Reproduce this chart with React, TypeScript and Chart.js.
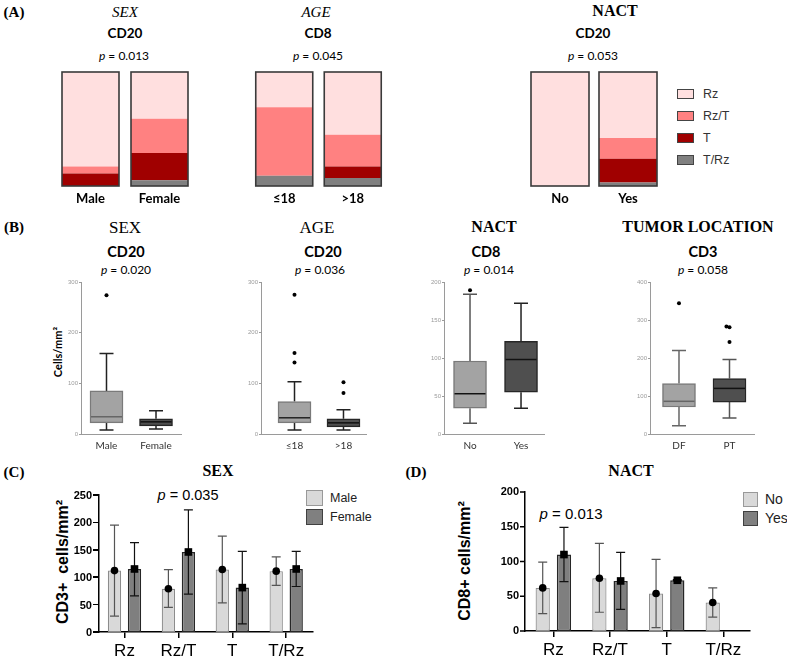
import React, { useEffect, useRef, useState } from 'react';
import { Chart, registerables } from 'chart.js';

Chart.register(...registerables);

const SERIF = '"Liberation Serif", "Times New Roman", serif';
const HUM = 'Lato, "Open Sans", sans-serif';
const SANS = '"Liberation Sans", Arial, sans-serif';

// ---------------- Panel A: distribution of zones (% of cases) ----------------
const zoneLabels = ['Rz', 'Rz/T', 'T', 'T/Rz'];
const zoneColors = ['#ffdfdf', '#ff8181', '#a00000', '#808080'];
const sexGroups = ['Male', 'Female'];
const ageGroups = ['≤18', '>18'];
const nactGroups = ['No', 'Yes'];
const locGroups = ['DF', 'PT'];

const aSexRz = [83, 41];
const aSexRzT = [6, 30];
const aSexT = [11, 24];
const aSexTRz = [0, 5];
const aAgeRz = [31, 55];
const aAgeRzT = [60, 28];
const aAgeT = [0, 10];
const aAgeTRz = [9, 7];
const aNactRz = [100, 58];
const aNactRzT = [0, 18];
const aNactT = [0, 21];
const aNactTRz = [0, 3];

// ---------------- Panel B: box plots (cells/mm²) ----------------
const bSexMin = [8, 10];
const bSexQ1 = [22, 16];
const bSexMed = [34, 24];
const bSexQ3 = [85, 30];
const bSexMax = [159, 46];
const bSexOutPos = [1];
const bSexOutVal = [274];

const bAgeMin = [8, 8];
const bAgeQ1 = [22, 14];
const bAgeMed = [32, 22];
const bAgeQ3 = [64, 30];
const bAgeMax = [103, 48];
const bAgeOutPos = [1, 1, 1, 2, 2];
const bAgeOutVal = [275, 160, 141, 102, 81];

const bNactMin = [14, 34];
const bNactQ1 = [34, 55];
const bNactMed = [53, 98];
const bNactQ3 = [96, 122];
const bNactMax = [184, 172];
const bNactOutPos = [1];
const bNactOutVal = [189];

const bLocMin = [22, 42];
const bLocQ1 = [71, 84];
const bLocMed = [86, 120];
const bLocQ3 = [133, 146];
const bLocMax = [220, 196];
const bLocOutPos = [1, 1.94, 2, 2];
const bLocOutVal = [344, 283, 281, 242];

// ---------------- Panel C: CD3+ by zone and sex ----------------
const zoneCats = ['Rz', 'Rz/T', 'T', 'T/Rz'];
const cYTicks = [0, 50, 100, 150, 200, 250];
const cMaleMean = [112, 79, 114, 111];
const cMaleLow = [29, 45, 53, 85];
const cMaleHigh = [195, 114, 175, 137];
const cFemaleMean = [115, 146, 81, 115];
const cFemaleLow = [66, 69, 15, 83];
const cFemaleHigh = [163, 223, 147, 147];

// ---------------- Panel D: CD8+ by zone and NACT ----------------
const dYTicks = [0, 50, 100, 150, 200];
const dNoMean = [62, 76, 54, 41];
const dNoLow = [25, 27, 5, 20];
const dNoHigh = [99, 126, 103, 62];
const dYesMean = [110, 72, 73, null];
const dYesLow = [71, 31, 72, null];
const dYesHigh = [149, 113, 74, null];

// ---------------- plugins ----------------
function makeOutlinePlugin(color: string, width: number) {
  return {
    id: 'barOutline',
    afterDatasetsDraw(chart: any) {
      const ys = chart.scales.y;
      const top = ys.getPixelForValue(100);
      const bot = ys.getPixelForValue(0);
      const ctx = chart.ctx;
      ctx.save();
      ctx.strokeStyle = color;
      ctx.lineWidth = width;
      chart.getDatasetMeta(0).data.forEach((el: any) => {
        const p = el.getProps(['x', 'width'], true);
        ctx.strokeRect(p.x - p.width / 2, top, p.width, bot - top);
      });
      ctx.restore();
    },
  };
}

function makeBoxPlugin(mn: number[], q1: number[], md: number[], q3: number[], mx: number[], whisk: string[], med: string[]) {
  return {
    id: 'boxWhisker',
    beforeDatasetsDraw(chart: any) {
      const xs = chart.scales.x;
      const ys = chart.scales.y;
      const ctx = chart.ctx;
      ctx.save();
      ctx.lineWidth = 1.5;
      mn.forEach((_v, i) => {
        const x = xs.getPixelForValue(i + 1);
        const yMin = ys.getPixelForValue(mn[i]);
        const yMax = ys.getPixelForValue(mx[i]);
        ctx.strokeStyle = whisk[i];
        ctx.beginPath();
        ctx.moveTo(x, ys.getPixelForValue(q3[i]));
        ctx.lineTo(x, yMax);
        ctx.moveTo(x, ys.getPixelForValue(q1[i]));
        ctx.lineTo(x, yMin);
        ctx.moveTo(x - 7, yMax);
        ctx.lineTo(x + 7, yMax);
        ctx.moveTo(x - 7, yMin);
        ctx.lineTo(x + 7, yMin);
        ctx.stroke();
      });
      ctx.restore();
    },
    afterDatasetsDraw(chart: any) {
      const ys = chart.scales.y;
      const ctx = chart.ctx;
      ctx.save();
      ctx.lineWidth = 1.5;
      chart.getDatasetMeta(0).data.forEach((el: any, i: number) => {
        const p = el.getProps(['x', 'width'], true);
        const y = ys.getPixelForValue(md[i]);
        ctx.strokeStyle = med[i];
        ctx.beginPath();
        ctx.moveTo(p.x - p.width / 2 + 1, y);
        ctx.lineTo(p.x + p.width / 2 - 1, y);
        ctx.stroke();
      });
      ctx.restore();
    },
  };
}

function makeErrorPlugin(lows: any[][], highs: any[][], colors: string[], markers: string[]) {
  return {
    id: 'errorBars',
    afterDatasetsDraw(chart: any) {
      const ys = chart.scales.y;
      const ctx = chart.ctx;
      ctx.save();
      lows.forEach((lo, d) => {
        const meta = chart.getDatasetMeta(d);
        meta.data.forEach((el: any, i: number) => {
          const v = chart.data.datasets[d].data[i].y;
          if (v === null || v === undefined || lo[i] === null) return;
          const x = el.x;
          const yMean = ys.getPixelForValue(v);
          const yLo = ys.getPixelForValue(lo[i]);
          const yHi = ys.getPixelForValue(highs[d][i]);
          ctx.strokeStyle = colors[d];
          ctx.lineWidth = 1.2;
          ctx.beginPath();
          ctx.moveTo(x, yHi);
          ctx.lineTo(x, yLo);
          ctx.moveTo(x - 4.5, yHi);
          ctx.lineTo(x + 4.5, yHi);
          ctx.moveTo(x - 4.5, yLo);
          ctx.lineTo(x + 4.5, yLo);
          ctx.stroke();
          ctx.fillStyle = '#000';
          if (markers[d] === 'circle') {
            ctx.beginPath();
            ctx.arc(x, yMean, 3.8, 0, Math.PI * 2);
            ctx.fill();
          } else {
            ctx.fillRect(x - 3.8, yMean - 3.8, 7.6, 7.6);
          }
        });
      });
      ctx.restore();
    },
  };
}

// draws the value-axis tick marks and numbers from the y scale
function makeYAxisPlugin(vals: number[]) {
  return {
    id: 'yAxisLabels',
    afterDraw(chart: any) {
      const ys = chart.scales.y;
      const ctx = chart.ctx;
      ctx.save();
      ctx.strokeStyle = '#000';
      ctx.fillStyle = '#000';
      ctx.lineWidth = 1.5;
      ctx.font = `bold 11px ${SANS}`;
      ctx.textAlign = 'right';
      ctx.textBaseline = 'middle';
      vals.forEach((v) => {
        const y = ys.getPixelForValue(v);
        ctx.beginPath();
        ctx.moveTo(ys.right - 5, y);
        ctx.lineTo(ys.right, y);
        ctx.stroke();
        ctx.fillText(String(v), ys.right - 6, y);
      });
      ctx.restore();
    },
  };
}

// ---------------- configs ----------------
const base = {
  animation: false,
  responsive: false,
  maintainAspectRatio: false,
  devicePixelRatio: 1,
  events: [],
};

function stackedConfig(groups: string[], rz: number[], rzt: number[], t: number[], trz: number[], barPct: number) {
  const series = [trz, t, rzt, rz];
  const idx = [3, 2, 1, 0];
  return {
    type: 'bar',
    data: {
      labels: groups,
      datasets: series.map((d, k) => ({
        label: zoneLabels[idx[k]],
        data: d,
        backgroundColor: zoneColors[idx[k]],
        borderWidth: 0,
        barPercentage: barPct,
        categoryPercentage: 1,
      })),
    },
    options: {
      ...base,
      layout: { autoPadding: false, padding: { top: 1, left: 0, right: 0, bottom: 0 } },
      plugins: { legend: { display: false }, tooltip: { enabled: false }, title: { display: false } },
      scales: {
        x: {
          stacked: true,
          grid: { display: false, drawTicks: false },
          border: { display: false },
          ticks: { font: { family: HUM, size: 13, weight: 'bold' }, color: '#000', padding: 5, maxRotation: 0, autoSkip: false },
          afterFit: (s: any) => { s.height = 24; },
        },
        y: { stacked: true, display: false, min: 0, max: 100 },
      },
    },
    plugins: [makeOutlinePlugin('#3a3a3a', 1.6)],
  };
}

function boxConfig(groups: string[], mn: number[], q1: number[], md: number[], q3: number[], mx: number[],
  outPos: number[], outVal: number[], yMax: number, yStep: number, xMin: number, xMax: number, whisk: string[], med: string[]) {
  return {
    type: 'bar',
    data: {
      datasets: [
        {
          type: 'bar',
          data: groups.map((_g, i) => ({ x: i + 1, y: [q1[i], q3[i]] })),
          backgroundColor: ['#a3a3a3', '#4f4f4f'],
          borderColor: ['#7a7a7a', '#262626'],
          borderWidth: 1.5,
          borderSkipped: false,
          barThickness: 33,
        },
        {
          type: 'scatter',
          data: outPos.map((p, k) => ({ x: p, y: outVal[k] })),
          pointRadius: 2,
          pointBackgroundColor: '#000',
          pointBorderWidth: 0,
        },
      ],
    },
    options: {
      ...base,
      layout: { autoPadding: false, padding: { top: 6, left: 0, right: 0, bottom: 0 } },
      plugins: { legend: { display: false }, tooltip: { enabled: false } },
      scales: {
        x: {
          type: 'linear', min: xMin, max: xMax, offset: false,
          afterBuildTicks: (s: any) => { s.ticks = groups.map((_g, i) => ({ value: i + 1 })); },
          ticks: {
            callback: (v: any) => groups[Math.round(v) - 1] ?? '',
            font: { family: HUM, size: 10 }, color: '#333', padding: 6, maxRotation: 0, autoSkip: false,
          },
          grid: { display: false, drawTicks: false, offset: false },
          border: { color: '#9a9a9a', width: 1 },
          afterFit: (s: any) => { s.height = 22; },
        },
        y: {
          min: 0, max: yMax,
          ticks: { stepSize: yStep, font: { family: SANS, size: 6 }, color: '#9a9a9a', padding: 1 },
          grid: { drawOnChartArea: false, tickLength: 2, color: '#9a9a9a' },
          border: { color: '#9a9a9a', width: 1 },
          afterFit: (s: any) => { s.width = 16; },
        },
      },
    },
    plugins: [makeBoxPlugin(mn, q1, md, q3, mx, whisk, med)],
  };
}

function groupedConfig(names: string[], means: any[][], lows: any[][], highs: any[][], yTicks: number[],
  xMin: number, xMax: number, catPct: number, barPct: number, yWidth: number, canvasYLabels: boolean) {
  const fills = ['#d9d9d9', '#7f7f7f'];
  const borders = ['#8c8c8c', '#262626'];
  const plugins: any[] = [makeErrorPlugin(lows, highs, ['#555555', '#111111'], ['circle', 'square'])];
  if (canvasYLabels) plugins.push(makeYAxisPlugin(yTicks));
  return {
    type: 'bar',
    data: {
      datasets: means.map((m, d) => ({
        label: names[d],
        data: m.map((v, i) => ({ x: i + 1, y: v })),
        backgroundColor: fills[d],
        borderColor: borders[d],
        borderWidth: d === 0 ? 1.2 : 1.5,
        borderSkipped: false,
        categoryPercentage: catPct,
        barPercentage: barPct,
      })),
    },
    options: {
      ...base,
      layout: { autoPadding: false, padding: { top: 8, left: 0, right: 2, bottom: 0 } },
      plugins: { legend: { display: false }, tooltip: { enabled: false } },
      scales: {
        x: {
          type: 'linear', min: xMin, max: xMax, offset: false,
          afterBuildTicks: (s: any) => { s.ticks = zoneCats.map((_c, i) => ({ value: i + 1 })); },
          ticks: {
            callback: (v: any) => zoneCats[Math.round(v) - 1] ?? '',
            font: { family: SANS, size: 17 }, color: '#000', padding: 3, maxRotation: 0, autoSkip: false,
          },
          grid: { drawOnChartArea: false, offset: false, tickLength: 6, color: '#000', lineWidth: 1.5 },
          border: { color: '#000', width: 1.5 },
          afterFit: (s: any) => { s.height = 28; },
        },
        y: {
          type: 'linear',
          position: 'left',
          min: yTicks[0], max: yTicks[yTicks.length - 1],
          ticks: { display: false },
          grid: { display: false, drawTicks: false },
          border: { color: '#000', width: 1.5 },
          afterFit: (s: any) => { s.width = yWidth; },
        },
      },
    },
    plugins,
  };
}

// ---------------- components ----------------
function ChartBox({ left, top, width, height, make, onReady }:
  { left: number; top: number; width: number; height: number; make: () => any; onReady?: (c: any) => void }) {
  const ref = useRef<HTMLCanvasElement | null>(null);
  useEffect(() => {
    if (!ref.current) return;
    const chart = new Chart(ref.current, make());
    if (onReady) onReady(chart);
    return () => chart.destroy();
  }, []);
  return (
    <canvas ref={ref} width={width} height={height}
      style={{ position: 'absolute', left, top, width, height, display: 'block', zIndex: 2 }} />
  );
}

function Txt({ x, y, size, family, weight = 'normal', italic = false, color = '#000', rotate = 0, align = 'center', z = 1, children }:
  { x: number; y: number; size: number; family: string; weight?: any; italic?: boolean; color?: string; rotate?: number; align?: string; z?: number; children: any }) {
  const tx = align === 'center' ? '-50%' : align === 'right' ? '-100%' : '0';
  return (
    <div style={{
      position: 'absolute', left: x, top: y,
      transform: `translate(${tx},-50%) rotate(${rotate}deg)`,
      fontSize: size, fontFamily: family, fontWeight: weight, fontStyle: italic ? 'italic' : 'normal',
      color, whiteSpace: 'pre', lineHeight: 1, zIndex: z,
    }}>{children}</div>
  );
}

function PVal({ x, y, size, family, value }: { x: number; y: number; size: number; family: string; value: string }) {
  return (
    <Txt x={x} y={y} size={size} family={family}><span style={{ fontStyle: 'italic' }}>p</span> = {value}</Txt>
  );
}

function Swatch({ x, y, w, h, fill, border }: { x: number; y: number; w: number; h: number; fill: string; border: string }) {
  return <div style={{ position: 'absolute', left: x, top: y, width: w, height: h, background: fill, border: `1px solid ${border}`, boxSizing: 'border-box' }} />;
}

const C_LEFT = 97;
const C_TOP = 487;

export default function App() {
  // tick positions of panel C's value axis
  const [cTicks, setCTicks] = useState<{ v: number; x: number; y: number }[]>([]);
  const onCReady = (chart: any) => {
    const ys = chart.scales.y;
    setCTicks(cYTicks.map((v) => ({ v, x: C_LEFT + ys.right, y: C_TOP + ys.getPixelForValue(v) })));
  };

  return (
    <div style={{ position: 'absolute', left: 0, top: 0, width: 787, height: 657, background: '#fff', overflow: 'hidden' }}>
      {/* ---------- Panel A ---------- */}
      <Txt x={14} y={12} size={15} family={SERIF} weight="bold">(A)</Txt>
      <Txt x={125} y={12} size={15} family={SERIF} italic>SEX</Txt>
      <Txt x={125} y={34} size={13.5} family={HUM} weight="bold">CD20</Txt>
      <PVal x={124} y={56} size={12} family={HUM} value="0.013" />
      <Txt x={316} y={12} size={15} family={SERIF} italic>AGE</Txt>
      <Txt x={318} y={34} size={13.5} family={HUM} weight="bold">CD8</Txt>
      <PVal x={318} y={56} size={12} family={HUM} value="0.045" />
      <Txt x={615} y={11} size={16} family={SERIF} weight="bold">NACT</Txt>
      <Txt x={593} y={34} size={13.5} family={HUM} weight="bold">CD20</Txt>
      <PVal x={593} y={56} size={12} family={HUM} value="0.053" />

      <ChartBox left={56} top={71} width={138} height={139} make={() => stackedConfig(sexGroups, aSexRz, aSexRzT, aSexT, aSexTRz, 0.826)} />
      <ChartBox left={250} top={71} width={137} height={139} make={() => stackedConfig(ageGroups, aAgeRz, aAgeRzT, aAgeT, aAgeTRz, 0.832)} />
      <ChartBox left={526} top={71} width={136} height={139} make={() => stackedConfig(nactGroups, aNactRz, aNactRzT, aNactT, aNactTRz, 0.853)} />

      {zoneLabels.map((zl, k) => (
        <React.Fragment key={zl}>
          <Swatch x={677} y={89 + k * 22} w={17} h={10} fill={zoneColors[k]} border="#444" />
          <Txt x={703} y={94 + k * 22} size={12.5} family={SANS} color="#333" align="left">{zl}</Txt>
        </React.Fragment>
      ))}

      {/* ---------- Panel B ---------- */}
      <Txt x={14} y={227} size={15} family={SERIF} weight="bold">(B)</Txt>
      <Txt x={125} y={227} size={17} family={SERIF}>SEX</Txt>
      <Txt x={126} y={252} size={14.5} family={HUM} weight="bold">CD20</Txt>
      <PVal x={126} y={270} size={12} family={HUM} value="0.020" />
      <Txt x={317} y={227} size={17} family={SERIF}>AGE</Txt>
      <Txt x={323} y={252} size={14.5} family={HUM} weight="bold">CD20</Txt>
      <PVal x={320} y={270} size={12} family={HUM} value="0.036" />
      <Txt x={494} y={227} size={16} family={SERIF} weight="bold">NACT</Txt>
      <Txt x={486} y={252} size={14.5} family={HUM} weight="bold">CD8</Txt>
      <PVal x={489} y={270} size={12} family={HUM} value="0.014" />
      <Txt x={698} y={227} size={16} family={SERIF} weight="bold">TUMOR LOCATION</Txt>
      <Txt x={703} y={252} size={14.5} family={HUM} weight="bold">CD3</Txt>
      <PVal x={703} y={270} size={12} family={HUM} value="0.058" />
      <Txt x={57} y={352} size={11} family={HUM} weight="bold" rotate={-90}>Cells/mm²</Txt>

      <ChartBox left={65} top={276} width={117} height={180}
        make={() => boxConfig(sexGroups, bSexMin, bSexQ1, bSexMed, bSexQ3, bSexMax, bSexOutPos, bSexOutVal, 300, 100, 0.485, 2.525, ['#222', '#222'], ['#666', '#111'])} />
      <ChartBox left={245} top={276} width={122} height={180}
        make={() => boxConfig(ageGroups, bAgeMin, bAgeQ1, bAgeMed, bAgeQ3, bAgeMax, bAgeOutPos, bAgeOutVal, 300, 100, 0.316, 2.48, ['#222', '#222'], ['#222', '#111'])} />
      <ChartBox left={428} top={276} width={117} height={180}
        make={() => boxConfig(nactGroups, bNactMin, bNactQ1, bNactMed, bNactQ3, bNactMax, bNactOutPos, bNactOutVal, 200, 50, 0.49, 2.47, ['#555', '#222'], ['#111', '#111'])} />
      <ChartBox left={634} top={276} width={121} height={180}
        make={() => boxConfig(locGroups, bLocMin, bLocQ1, bLocMed, bLocQ3, bLocMax, bLocOutPos, bLocOutVal, 400, 100, 0.426, 2.505, ['#666', '#555'], ['#666', '#111'])} />

      {/* ---------- Panel C ---------- */}
      <Txt x={14} y={472} size={15} family={SERIF} weight="bold">(C)</Txt>
      <Txt x={218} y={471} size={16} family={SERIF} weight="bold">SEX</Txt>
      <Txt x={63} y={562} size={16} family={SANS} weight="bold" rotate={-90}>CD3+  cells/mm²</Txt>
      <PVal x={188} y={495} size={14.5} family={SANS} value="0.035" />
      <ChartBox left={C_LEFT} top={C_TOP} width={218} height={173} onReady={onCReady}
        make={() => groupedConfig(sexGroups, [cMaleMean, cFemaleMean], [cMaleLow, cFemaleLow], [cMaleHigh, cFemaleHigh], cYTicks, 0.527, 4.497, 0.742, 0.665, 2, false)} />
      {cTicks.map((t) => (
        <React.Fragment key={t.v}>
          <div style={{ position: 'absolute', left: t.x - 6, top: t.y - 0.75, width: 5, height: 1.5, background: '#000', zIndex: 5 }} />
          <Txt x={t.x - 7} y={t.y} size={11} family={SANS} weight="bold" align="right" z={5}>{String(t.v)}</Txt>
        </React.Fragment>
      ))}
      <Swatch x={306} y={490} w={17} h={16} fill="#d9d9d9" border="#999" />
      <Swatch x={306} y={509} w={17} h={16} fill="#808080" border="#404040" />
      <Txt x={330} y={498} size={12.5} family={SANS} color="#222" align="left">Male</Txt>
      <Txt x={330} y={517} size={12.5} family={SANS} color="#222" align="left">Female</Txt>

      {/* ---------- Panel D ---------- */}
      <Txt x={416} y={472} size={15} family={SERIF} weight="bold">(D)</Txt>
      <Txt x={631} y={471} size={16} family={SERIF} weight="bold">NACT</Txt>
      <Txt x={465} y={561} size={16} family={SANS} weight="bold" rotate={-90}>CD8+ cells/mm²</Txt>
      <PVal x={571} y={513} size={15} family={SANS} value="0.013" />
      <ChartBox left={485} top={484} width={267} height={175}
        make={() => groupedConfig(nactGroups, [dNoMean, dYesMean], [dNoLow, dYesLow], [dNoHigh, dYesHigh], dYTicks, 0.5, 4.47, 0.75, 0.67, 40, true)} />
      <Swatch x={743} y={492} w={15} h={15} fill="#d9d9d9" border="#999" />
      <Swatch x={743} y={511} w={15} h={15} fill="#808080" border="#404040" />
      <Txt x={765} y={499} size={14} family={SANS} color="#222" align="left">No</Txt>
      <Txt x={765} y={518} size={14} family={SANS} color="#222" align="left">Yes</Txt>
    </div>
  );
}
